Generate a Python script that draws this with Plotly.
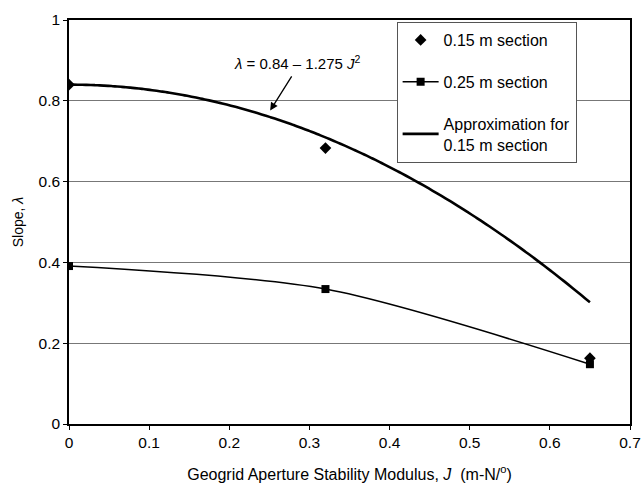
import numpy as np
import plotly.graph_objects as go

# Measured slopes for each section
j_values = [0.0, 0.32, 0.65]
slope_015 = [0.84, 0.683, 0.163]
slope_025 = [0.391, 0.334, 0.148]

# Fitted approximation for the 0.15 m section: lambda = A - B * J^2
fit_a = 0.84
fit_b = 1.275
fit_j_max = 0.65

x_ticks = [0, 0.1, 0.2, 0.3, 0.4, 0.5, 0.6, 0.7]
y_ticks = [0, 0.2, 0.4, 0.6, 0.8, 1]

FONT = "Liberation Sans, Arial, sans-serif"

fit_j = np.linspace(0, fit_j_max, 120)
fit_slope = fit_a - fit_b * fit_j ** 2

fig = go.Figure()

fig.add_trace(go.Scatter(
    x=j_values, y=slope_015, mode="markers", name="0.15 m section",
    marker=dict(symbol="diamond", size=9, color="black"),
    legendgroup="a",
))
fig.add_trace(go.Scatter(
    x=j_values, y=slope_025, mode="lines+markers", name="0.25 m section",
    line=dict(color="black", width=1.6, shape="spline", smoothing=0.8),
    marker=dict(symbol="square", size=8, color="black"),
    legendgroup="b",
))
fig.add_trace(go.Scatter(
    x=fit_j, y=fit_slope, mode="lines", name="Approximation for<br>0.15 m section",
    line=dict(color="black", width=2.6, shape="spline"),
    legendgroup="c",
))

# Equation label and its pointer to the fitted curve
fig.add_annotation(
    x=0.285, y=0.895, xref="x", yref="y", showarrow=False,
    text="<i>λ</i> = 0.84 – 1.275 <i>J</i><sup>2</sup>",
    font=dict(family=FONT, size=15, color="black"),
)
fig.add_annotation(
    x=0.251, y=0.776, xref="x", yref="y",
    ax=0.279, ay=0.864, axref="x", ayref="y",
    text="", showarrow=True, arrowhead=2, arrowsize=1.2,
    arrowwidth=1.3, arrowcolor="black",
)

fig.update_layout(
    width=643, height=488,
    margin=dict(l=69, r=13, t=20, b=64),
    paper_bgcolor="white", plot_bgcolor="white",
    font=dict(family=FONT, size=15, color="black"),
    showlegend=True,
    legend=dict(
        x=0.584, y=0.995, xanchor="left", yanchor="top",
        bgcolor="white", bordercolor="#555", borderwidth=1,
        font=dict(family=FONT, size=16, color="black"),
        tracegroupgap=18, itemwidth=36,
    ),
    xaxis=dict(
        range=[0, 0.7], tickvals=x_ticks, showgrid=False, zeroline=False,
        showline=True, linecolor="black", linewidth=1.5, mirror=True,
        ticks="outside", ticklen=4, tickcolor="black", automargin=False,
        tickfont=dict(size=15.5, color="black"),
        title=dict(text="Geogrid Aperture Stability Modulus, <i>J</i>  (m-N/<sup>o</sup>)",
                   font=dict(size=16, color="black"), standoff=18),
    ),
    yaxis=dict(
        range=[0, 1], tickvals=y_ticks, showgrid=True, gridcolor="#777", gridwidth=1,
        zeroline=False, showline=True, linecolor="black", linewidth=1.5, mirror=True,
        ticks="outside", ticklen=4, tickcolor="black", automargin=False,
        tickfont=dict(size=15.5, color="black"),
        title=dict(text="Slope, <i>λ</i>", font=dict(size=14, color="black"), standoff=12),
    ),
)

fig.write_html("out.html")
